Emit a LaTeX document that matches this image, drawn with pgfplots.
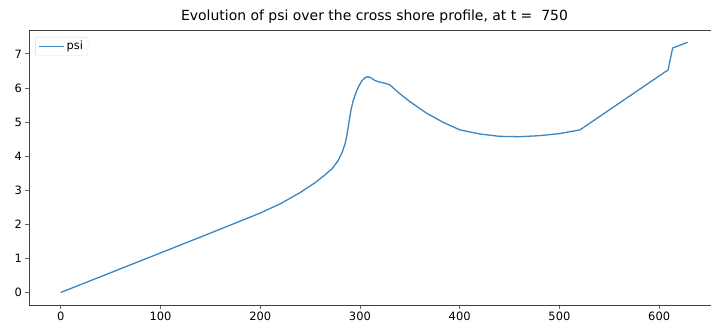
\documentclass[border=0pt]{standalone}
\usepackage{pgfplots}
\pgfplotsset{compat=1.18}
\usepackage{fontspec}
\setmainfont{DejaVu Sans}
\definecolor{mplblue}{HTML}{3A86C2}
\begin{document}
\begin{tikzpicture}
\begin{axis}[
  scale only axis,
  width=682bp, height=275bp,
  xmin=-31.8, xmax=652,
  ymin=-0.367, ymax=7.70,
  axis x line*=box, axis y line*=left,
  axis line style={black!75, line width=0.9pt},
  xtick={0,100,...,600},
  ytick={0,1,...,7},
  xtick pos=bottom, ytick pos=left,
  tick align=outside,
  tick style={black!60, line width=0.8pt},
  major tick length=3.5bp,
  tick label style={font=\fontsize{11.5}{13}\selectfont},
  /pgf/number format/assume math mode=true,
  title={Evolution of psi over the cross shore profile, at t =\ \ 750},
  title style={font=\fontsize{14}{15}\selectfont, yshift=-3bp, xshift=4.5bp},
  legend style={at={(0.009,0.975)}, anchor=north west, draw=black!15,
    rounded corners=2pt, font=\fontsize{11.5}{13}\selectfont,
    inner xsep=3pt, inner ysep=2pt},
  legend image code/.code={\draw[#1] (0bp,0bp) -- (25bp,0bp);},
  legend cell align=left,
]
\addplot[mplblue, line width=1.3pt] coordinates {
  (0,0) (50,0.58) (100,1.16) (150,1.74) (200,2.33) (220,2.60)
  (240,2.93) (255,3.22) (265,3.45) (272,3.63) (278,3.86) (282,4.10)
  (285,4.35) (287,4.62) (289,5.00) (291,5.35) (293,5.60) (296,5.86)
  (299,6.06) (302,6.21) (305,6.30) (308,6.33) (311.6,6.29) (314.9,6.22)
  (319.9,6.17) (324.9,6.14) (330,6.09) (335,5.96) (340,5.83) (350,5.60)
  (366.8,5.26) (383.5,4.99) (400.2,4.77) (420,4.65) (440,4.58)
  (460,4.57) (480,4.60) (500,4.66) (520.6,4.77) (609,6.53)
  (613.5,7.17) (628.6,7.34)
};
\addlegendentry{psi}
\coordinate (bl) at (rel axis cs:0,0);
\coordinate (tr) at (rel axis cs:1,1);
\end{axis}
\pgfresetboundingbox
\path[use as bounding box] ([xshift=-29bp,yshift=-20bp]bl) rectangle ([yshift=30bp]tr);
\end{tikzpicture}
\end{document}
